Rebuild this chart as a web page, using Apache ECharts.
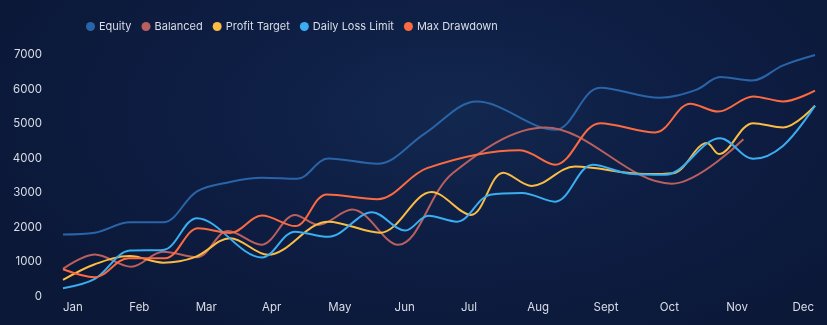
<!DOCTYPE html>
<html>
<head>
<meta charset="utf-8">
<script src="https://cdn.jsdelivr.net/npm/echarts@6/dist/echarts.min.js"></script>
<style>
html,body{margin:0;padding:0;width:827px;height:325px;overflow:hidden;}
body{background:radial-gradient(ellipse 60% 80% at 55% 35%, #13284f 0%, #0e1e44 45%, #0b1838 100%);}
#chart{width:827px;height:325px;}
</style>
</head>
<body>
<div id="chart"></div>
<script>
// Month tick labels
const months = ['Jan','Feb','Mar','Apr','May','Jun','Jul','Aug','Sept','Oct','Nov','Dec'];
const seriesNames = ['Equity','Balanced','Profit Target','Daily Loss Limit','Max Drawdown'];
const yTicks = [0,1000,2000,3000,4000,5000,6000,7000];

// Each series: [month position (0 = Jan, 11 = Dec, fractional = within month), value]
const equity = [[0,1800],[0.48,1850],[1.01,2150],[1.51,2150],[2.02,3050],[2.52,3320],[3.0,3440],[3.53,3410],[4.0,4000],[4.74,3850],[5.46,4730],[6.24,5650],[7.42,4830],[8.1,6050],[9.0,5760],[9.56,6000],[9.91,6360],[10.39,6260],[10.86,6700],[11.34,7000]];
const balanced = [[0,800],[0.48,1220],[1.03,865],[1.51,1300],[2.02,1140],[2.49,1900],[2.99,1500],[3.5,2365],[3.85,2075],[4.36,2520],[5.05,1500],[5.88,3580],[7.27,4900],[9.18,3270],[10.26,4560]];
const profitTarget = [[0,480],[0.48,935],[1.01,1175],[1.51,980],[1.99,1140],[2.52,1690],[3.09,1210],[4.0,2170],[4.78,1850],[5.56,3030],[6.15,2365],[6.64,3590],[7.07,3205],[7.72,3770],[8.78,3550],[9.2,3575],[9.71,4450],[9.89,4130],[10.41,5025],[10.86,4900],[11.34,5530]];
const dailyLossLimit = [[0,240],[0.48,510],[1.01,1330],[1.51,1350],[2.02,2270],[3.0,1130],[3.5,1880],[4.0,1730],[4.66,2440],[5.16,1910],[5.51,2340],[5.94,2170],[6.44,2950],[6.92,3000],[7.42,2750],[7.99,3820],[8.55,3560],[9.08,3530],[9.91,4590],[10.41,3990],[10.86,4370],[11.34,5530]];
const maxDrawdown = [[0,790],[0.48,560],[0.99,1110],[1.54,1110],[2.04,1980],[2.52,1840],[3.0,2345],[3.5,2040],[3.98,2960],[4.74,2820],[5.49,3720],[6.89,4240],[7.42,3820],[8.1,5025],[8.93,4755],[9.46,5590],[9.88,5360],[10.41,5800],[10.86,5655],[11.34,5970]];

const colors = ['#2a64a8','#b9605f','#fbbc43','#3aaef0','#fb6a40'];
const dataSets = [equity, balanced, profitTarget, dailyLossLimit, maxDrawdown];

const chart = echarts.init(document.getElementById('chart'), null, {renderer:'canvas'});
chart.setOption({
  backgroundColor: 'transparent',
  color: colors,
  textStyle: {fontFamily: 'Inter'},
  legend: {
    left: 81, top: 16,
    icon: 'circle', itemWidth: 9, itemHeight: 9, itemGap: 10,
    textStyle: {color: '#d9dde7', fontSize: 11, fontFamily: 'Inter', padding:[0,0,0,-1]},
    data: seriesNames
  },
  grid: {left: 63, right: 12, top: 55, bottom: 28.5, containLabel: false},
  xAxis: {
    type: 'value', min: 0, max: 11.34, interval: 1,
    axisLine: {show: false}, axisTick: {show: false}, splitLine: {show: false},
    axisLabel: {
      color: '#d9dde7', fontSize: 11.5, fontFamily: 'Inter', align: 'left', margin: 5,
      showMaxLabel: false,
      formatter: function (v) { return Number.isInteger(v) && months[v] ? months[v] : ''; }
    }
  },
  yAxis: {
    type: 'value', min: yTicks[0], max: yTicks[yTicks.length-1], interval: 1000,
    axisLine: {show: false}, axisTick: {show: false}, splitLine: {show: false},
    axisLabel: {color: '#d9dde7', fontSize: 11.5, fontFamily: 'Inter', margin: 21,
      formatter: function (v) { return String(v); }}
  },
  series: seriesNames.map(function (name, i) {
    return {
      name: name, type: 'line', data: dataSets[i], smooth: 0.35,
      showSymbol: false, symbol: 'circle', symbolSize: 6,
      lineStyle: {width: 2, color: colors[i]},
      itemStyle: {color: colors[i]}
    };
  })
});
</script>
</body>
</html>
